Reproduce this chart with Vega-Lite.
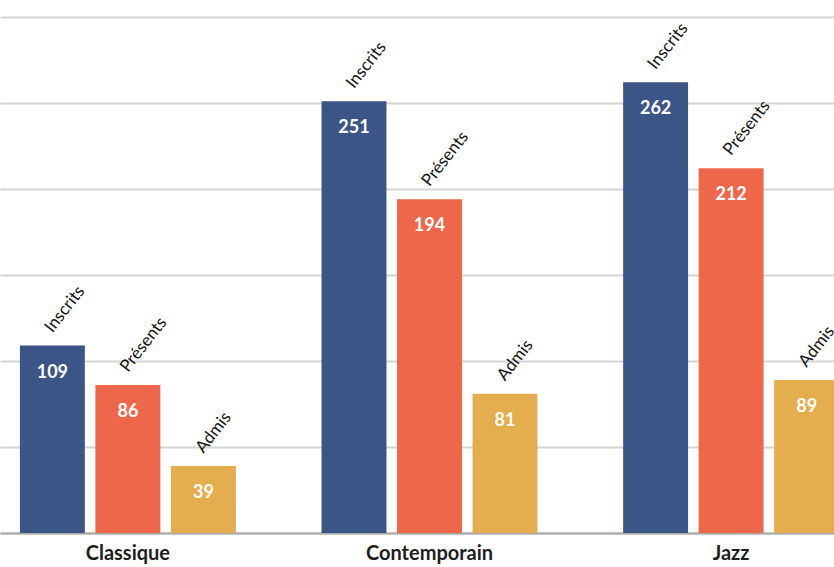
{
  "$schema": "https://vega.github.io/schema/vega-lite/v6.json",
  "width": 834,
  "height": 516,
  "autosize": {"type": "none"},
  "padding": {"left": 0, "top": 17, "right": 0, "bottom": 34},
  "background": "white",
  "config": {"view": {"stroke": null}, "font": "Lato"},
  "data": {
    "values": [
      {"discipline": "Classique", "type": "Inscrits", "value": 109},
      {"discipline": "Classique", "type": "Présents", "value": 86},
      {"discipline": "Classique", "type": "Admis", "value": 39},
      {"discipline": "Contemporain", "type": "Inscrits", "value": 251},
      {"discipline": "Contemporain", "type": "Présents", "value": 194},
      {"discipline": "Contemporain", "type": "Admis", "value": 81},
      {"discipline": "Jazz", "type": "Inscrits", "value": 262},
      {"discipline": "Jazz", "type": "Présents", "value": 212},
      {"discipline": "Jazz", "type": "Admis", "value": 89}
    ]
  },
  "encoding": {
    "x": {
      "field": "discipline",
      "type": "nominal",
      "sort": ["Classique", "Contemporain", "Jazz"],
      "scale": {"range": [0, 859], "paddingInner": 0.284, "paddingOuter": 0.066},
      "axis": {
        "title": null,
        "labelAngle": 0,
        "labelFont": "Lato",
        "labelFontWeight": "bold",
        "labelFontSize": 20,
        "labelColor": "#1e1e1e",
        "labelPadding": 10,
        "ticks": false,
        "domainColor": "#a8a8a8",
        "domainWidth": 2,
        "grid": false
      }
    },
    "xOffset": {
      "field": "type",
      "type": "nominal",
      "sort": ["Inscrits", "Présents", "Admis"],
      "scale": {"paddingInner": 0.14, "paddingOuter": 0}
    },
    "y": {
      "field": "value",
      "type": "quantitative",
      "scale": {"domain": [0, 300], "nice": false},
      "axis": {
        "title": null,
        "labels": false,
        "ticks": false,
        "domain": false,
        "values": [0, 50, 100, 150, 200, 250, 300],
        "gridColor": "#d4d4d4",
        "gridWidth": 2
      }
    }
  },
  "layer": [
    {
      "mark": {"type": "bar", "clip": true},
      "encoding": {
        "color": {
          "field": "type",
          "type": "nominal",
          "legend": null,
          "scale": {
            "domain": ["Inscrits", "Présents", "Admis"],
            "range": ["#3c5587", "#ee674a", "#e4ae4e"]
          }
        }
      }
    },
    {
      "mark": {
        "type": "text",
        "color": "white",
        "font": "Lato",
        "fontWeight": "bold",
        "fontSize": 18,
        "baseline": "alphabetic",
        "align": "center",
        "yOffset": 32
      },
      "encoding": {"text": {"field": "value", "type": "quantitative"}}
    },
    {
      "mark": {
        "type": "text",
        "color": "#141414",
        "font": "Lato",
        "fontSize": 17,
        "angle": -52,
        "align": "left",
        "baseline": "alphabetic",
        "xOffset": -8,
        "yOffset": -12
      },
      "encoding": {"text": {"field": "type", "type": "nominal"}}
    }
  ]
}
